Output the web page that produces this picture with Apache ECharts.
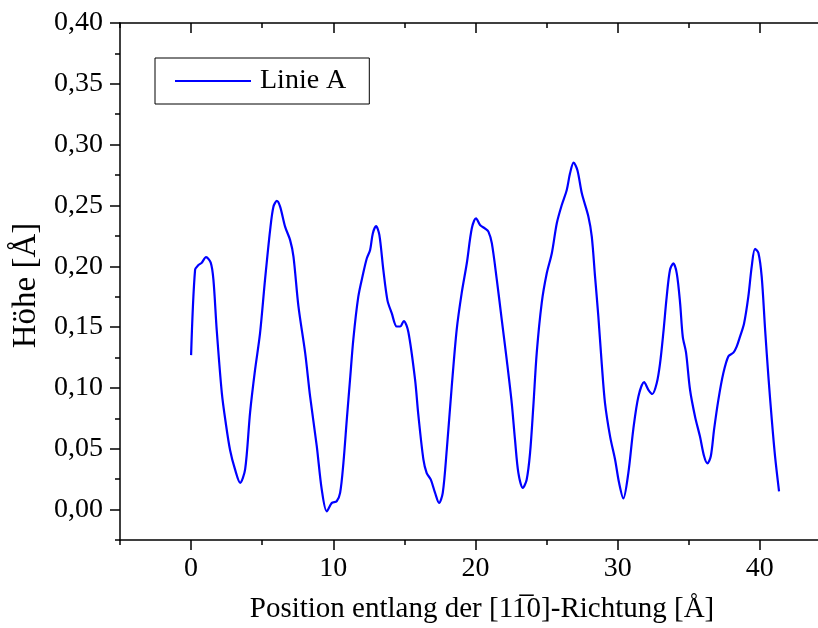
<!DOCTYPE html>
<html>
<head>
<meta charset="utf-8">
<script src="https://cdn.jsdelivr.net/npm/echarts@6/dist/echarts.min.js"></script>
<style>html,body{margin:0;padding:0;background:#fff}#c{width:818px;height:628px}</style>
</head>
<body>
<div id="c"></div>
<script>
var seriesName = 'Linie A';
var posX = [0,0.28,0.52,0.75,1.05,1.38,1.57,1.8,2.16,2.44,2.74,3.09,3.45,3.8,4.15,4.5,4.85,5.2,5.56,5.79,6.03,6.26,6.61,6.96,7.2,7.55,8.02,8.37,8.84,9.19,9.54,9.9,10.24,10.48,10.71,10.95,11.18,11.41,11.76,12.1,12.36,12.59,12.78,13.01,13.24,13.52,13.81,14.11,14.46,14.7,14.96,15.28,15.75,15.98,16.34,16.57,16.86,17.16,17.44,17.7,17.98,18.33,18.68,19.03,19.39,19.74,20.04,20.32,20.68,20.91,21.15,21.5,21.85,22.2,22.55,22.78,23.02,23.33,23.6,23.84,24.07,24.31,24.66,25.01,25.37,25.72,26.07,26.42,26.65,26.9,27.17,27.48,27.94,28.18,28.41,28.64,28.88,29.11,29.47,29.82,30.1,30.4,30.75,31.1,31.46,31.86,32.16,32.44,32.75,32.98,33.21,33.45,33.68,33.92,34.16,34.39,34.58,34.81,35.09,35.44,35.79,36.08,36.31,36.55,36.78,37.08,37.43,37.79,38.14,38.37,38.6,38.89,39.19,39.43,39.66,39.9,40.13,40.37,40.6,40.84,41.07,41.35];
var heightY = [0.127,0.197,0.201,0.203,0.2075,0.203,0.189,0.148,0.096,0.071,0.049,0.033,0.022,0.033,0.080,0.115,0.145,0.189,0.230,0.249,0.2537,0.249,0.2326,0.2217,0.208,0.167,0.129,0.093,0.052,0.0164,-0.0014,0.0055,0.0068,0.0137,0.038,0.074,0.107,0.140,0.175,0.194,0.2066,0.2134,0.227,0.233,0.2258,0.197,0.172,0.1615,0.1505,0.1505,0.155,0.146,0.107,0.078,0.041,0.030,0.0246,0.0137,0.0055,0.0137,0.049,0.101,0.148,0.178,0.2025,0.231,0.2395,0.234,0.231,0.2285,0.219,0.189,0.156,0.123,0.0876,0.0575,0.030,0.0178,0.0246,0.0466,0.085,0.129,0.170,0.194,0.2107,0.2354,0.2504,0.2627,0.2764,0.2852,0.279,0.260,0.241,0.2244,0.1915,0.159,0.120,0.0876,0.060,0.041,0.022,0.0092,0.030,0.066,0.093,0.1048,0.0985,0.095,0.104,0.120,0.145,0.175,0.197,0.2025,0.194,0.170,0.142,0.129,0.0985,0.0766,0.060,0.0438,0.038,0.0438,0.0657,0.090,0.112,0.126,0.129,0.134,0.142,0.153,0.175,0.200,0.2143,0.211,0.1915,0.148,0.1095,0.074,0.0438,0.015];
var xMajorTicks = [0,10,20,30,40];
var xMinorTicks = [-5,5,15,25,35];
var yMajorTicks = [0,0.05,0.10,0.15,0.20,0.25,0.30,0.35,0.40];
var yMinorTicks = [-0.025,0.025,0.075,0.125,0.175,0.225,0.275,0.325,0.375];
var xRange = [-5, 44.09];
var yRange = [-0.025, 0.40];
var xTitle = 'Position entlang der [11\u03050]-Richtung [Å]';
var yTitle = 'Höhe [Å]';

var FONT = '"Liberation Serif","Times New Roman",serif';
var data = posX.map(function(x,i){return [x, heightY[i]];});
function fmt(v){ return v.toFixed(2).replace('.', ','); }
var lineStyle = {color:'#000', width:1.5};

function xAx(pos, ticks, len, inside, showLine, labels){
  return {
    type:'value', position:pos, min:xRange[0], max:xRange[1],
    axisLine:{show:showLine, onZero:false, lineStyle:lineStyle},
    axisTick:{show:true, inside:inside, length:len, customValues:ticks, lineStyle:lineStyle},
    axisLabel:labels ? {show:true, customValues:ticks, fontFamily:FONT, fontSize:28, color:'#000', margin:15} : {show:false},
    splitLine:{show:false}
  };
}
function yAx(ticks, len, showLine, labels){
  return {
    type:'value', position:'left', min:yRange[0], max:yRange[1],
    axisLine:{show:showLine, onZero:false, lineStyle:lineStyle},
    axisTick:{show:true, inside:false, length:len, customValues:ticks, lineStyle:lineStyle},
    axisLabel:labels ? {show:true, customValues:ticks, formatter:fmt, fontFamily:FONT, fontSize:28, color:'#000', margin:17} : {show:false},
    splitLine:{show:false}
  };
}

var xa0 = xAx('bottom', xMajorTicks, 10, false, true, true);
xa0.name = xTitle; xa0.nameLocation = 'middle'; xa0.nameGap = 55;
xa0.nameTextStyle = {fontFamily:FONT, fontSize:29, color:'#000', padding:[0,0,0,26]};
var ya0 = yAx(yMajorTicks, 10, true, true);
ya0.name = yTitle; ya0.nameLocation = 'middle'; ya0.nameGap = 77;
ya0.nameTextStyle = {fontFamily:FONT, fontSize:33, color:'#000', padding:[0,8,0,0]};

var chart = echarts.init(document.getElementById('c'), null, {renderer:'canvas'});
chart.setOption({
  animation:false,
  backgroundColor:'#fff',
  grid:{left:120, top:23, right:0, height:517, containLabel:false, outerBoundsMode:'none'},
  legend:{
    show:true, left:155, top:58, orient:'vertical',
    padding:[9,23,9,20], itemWidth:76, itemHeight:14,
    borderColor:'#000', borderWidth:1, backgroundColor:'#fff',
    textStyle:{fontFamily:FONT, fontSize:28, color:'#000', padding:[0,0,0,4]},
    data:[{name:seriesName, icon:'path://M0,0 L76,0 L76,2 L0,2 Z', itemStyle:{color:'#0000ff'}}]
  },
  xAxis:[
    xa0,
    xAx('bottom', xMinorTicks, 5, false, false, false),
    xAx('top', xMajorTicks, 10, true, true, false),
    xAx('top', xMinorTicks, 5, true, false, false)
  ],
  yAxis:[
    ya0,
    yAx(yMinorTicks, 5, false, false)
  ],
  series:[{
    name:seriesName, type:'line', xAxisIndex:0, yAxisIndex:0,
    data:data, smooth:0.3, showSymbol:false, symbol:'none',
    lineStyle:{color:'#0000ff', width:2.2}, itemStyle:{color:'#0000ff'}
  }]
});
</script>
</body>
</html>
